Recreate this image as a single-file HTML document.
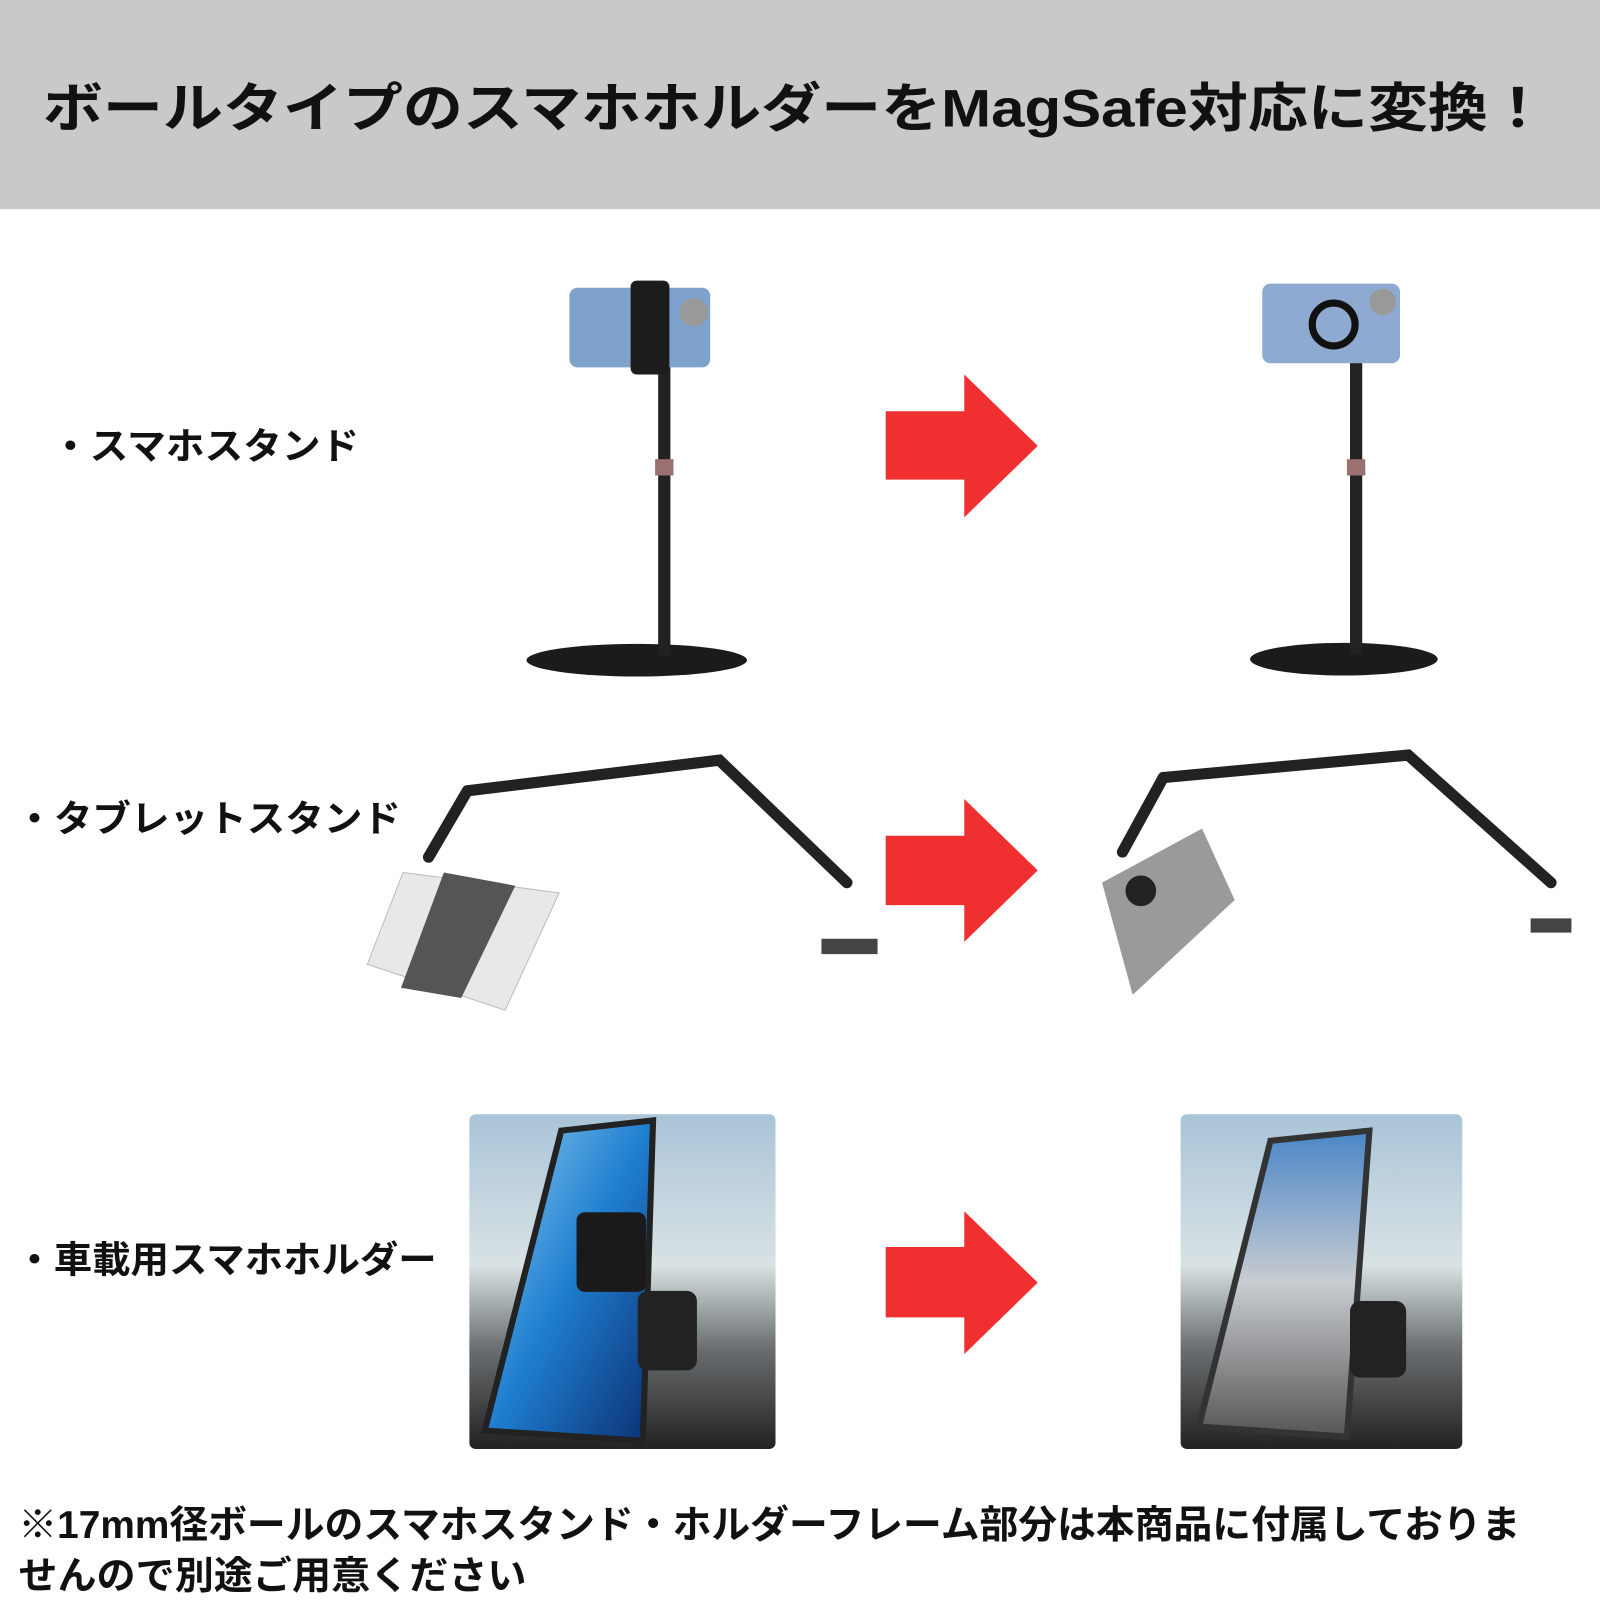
<!DOCTYPE html>
<html><head><meta charset="utf-8"><style>
html,body{margin:0;padding:0;background:#fff}
svg{display:block}
text{font-family:"Liberation Sans","Noto Sans CJK JP",sans-serif;font-weight:bold;fill:#111}
</style></head><body>
<svg width="1600" height="1600" viewBox="0 0 1568 1568" xmlns="http://www.w3.org/2000/svg">
<defs>
<linearGradient id="sky" x1="0" y1="0" x2="0" y2="1"><stop offset="0" stop-color="#a9c4d8"/><stop offset="0.45" stop-color="#d9e2e4"/><stop offset="0.7" stop-color="#6a6e70"/><stop offset="1" stop-color="#222"/></linearGradient>
<linearGradient id="ph" x1="0" y1="0" x2="1" y2="1"><stop offset="0" stop-color="#8fd0f0"/><stop offset="0.5" stop-color="#1f7ed0"/><stop offset="1" stop-color="#0b2f70"/></linearGradient>
<linearGradient id="ph2" x1="0" y1="0" x2="0" y2="1"><stop offset="0" stop-color="#4a86c8"/><stop offset="0.5" stop-color="#c8ccd0"/><stop offset="1" stop-color="#555"/></linearGradient>
</defs>
<rect x="0" y="0" width="1568" height="205" fill="#c9c9c7"/>
<text x="42" y="124" font-size="52" textLength="1475" lengthAdjust="spacingAndGlyphs">ボールタイプのスマホホルダーをMagSafe対応に変換！</text>

<text x="50" y="450" font-size="36" textLength="302" lengthAdjust="spacingAndGlyphs">・スマホスタンド</text>
<text x="15" y="815" font-size="36" textLength="378" lengthAdjust="spacingAndGlyphs">・タブレットスタンド</text>
<text x="15" y="1247" font-size="36" textLength="413" lengthAdjust="spacingAndGlyphs">・車載用スマホホルダー</text>
<text x="18" y="1507" font-size="38" textLength="1472" lengthAdjust="spacingAndGlyphs">※17mm径ボールのスマホスタンド・ホルダーフレーム部分は本商品に付属しておりま</text>
<text x="18" y="1557" font-size="38" textLength="498" lengthAdjust="spacingAndGlyphs">せんので別途ご用意ください</text>

<g fill="#f03030">
<path d="M868 403H945V367L1017 437L945 507V470H868Z"/>
<path d="M868 819H945V783L1017 853L945 923V887H868Z"/>
<path d="M868 1222H945V1187L1017 1257L945 1327V1291H868Z"/>
</g>

<ellipse cx="624" cy="647" rx="108" ry="16" fill="#1b1b1b"/>
<rect x="645" y="330" width="12" height="312" fill="#222"/>
<rect x="642" y="450" width="18" height="16" fill="#9a7070"/>
<rect x="558" y="282" width="138" height="78" rx="8" fill="#7ea2cc"/>
<rect x="618" y="275" width="38" height="92" rx="6" fill="#1c1c1c"/>
<circle cx="680" cy="306" r="14" fill="#999"/>

<ellipse cx="1317" cy="646" rx="92" ry="16" fill="#1b1b1b"/>
<rect x="1323" y="340" width="12" height="302" fill="#222"/>
<rect x="1320" y="450" width="18" height="16" fill="#9a7070"/>
<rect x="1237" y="278" width="135" height="78" rx="8" fill="#8faad0"/>
<circle cx="1307" cy="318" r="21" fill="none" stroke="#111" stroke-width="7"/>
<circle cx="1355" cy="296" r="13" fill="#999"/>

<g stroke="#222" stroke-width="11" fill="none" stroke-linecap="round">
<path d="M458 775L705 745L830 865"/>
<path d="M458 775L420 840"/>
</g>
<path d="M395 855L548 875L495 990L360 945Z" fill="#e8e8e8" stroke="#bbb"/>
<path d="M435 855L505 868L452 978L393 968Z" fill="#555"/>
<path d="M805 920h55v15h-55z" fill="#444"/>

<g stroke="#222" stroke-width="11" fill="none" stroke-linecap="round">
<path d="M1140 762L1380 740L1520 865"/>
<path d="M1140 762L1100 835"/>
</g>
<path d="M1080 865L1178 812L1210 882L1110 975Z" fill="#9a9a9a"/>
<circle cx="1118" cy="873" r="15" fill="#222"/>
<path d="M1500 900h40v14h-40z" fill="#444"/>

<rect x="460" y="1092" width="300" height="328" rx="6" fill="url(#sky)"/>
<path d="M550 1108L640 1098L630 1412L475 1402Z" fill="url(#ph)" stroke="#222" stroke-width="6"/>
<rect x="565" y="1188" width="68" height="78" rx="8" fill="#1a1a1a"/>
<rect x="625" y="1265" width="58" height="78" rx="10" fill="#222"/>
<rect x="1157" y="1092" width="276" height="328" rx="6" fill="url(#sky)"/>
<path d="M1245 1118L1342 1108L1320 1408L1175 1398Z" fill="url(#ph2)" stroke="#333" stroke-width="6"/>
<rect x="1323" y="1275" width="55" height="75" rx="10" fill="#222"/>
</svg>
</body></html>
